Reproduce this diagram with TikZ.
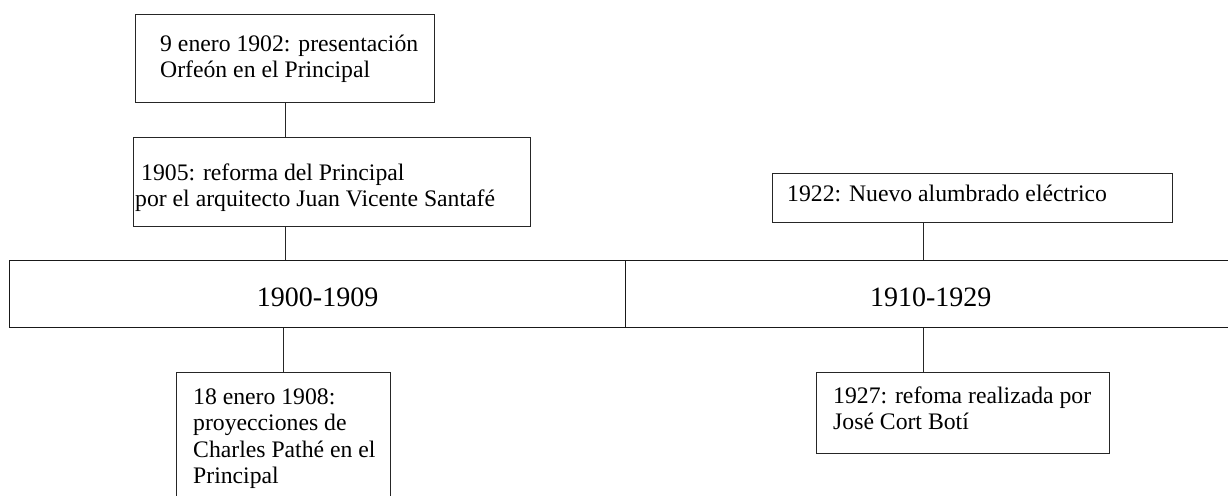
\documentclass[tikz,border=0pt]{standalone}
\usepackage{fontspec}
\setmainfont{Liberation Serif}
\usetikzlibrary{calc}
\begin{document}
\begin{tikzpicture}[x=1pt,y=-1pt,
  box/.style={draw=black!85, line width=1pt, inner sep=0pt, anchor=north west},
  txt/.style={inner sep=0pt, anchor=north west, align=left, font=\fontsize{23.7}{26.5}\selectfont},
  barbox/.style={draw=black!90, line width=1.3pt, inner sep=0pt, anchor=north west, minimum height=67pt, font=\fontsize{28}{32}\selectfont, text height=25pt, text depth=0pt},
  link/.style={draw=black!85, line width=1pt}]
\useasboundingbox (0,0) rectangle (1228,495);
% boxes
\node[box, minimum width=299pt, minimum height=88pt] (b1902) at (135,14) {};
\node[box, minimum width=397pt, minimum height=89pt] (b1905) at (133,137) {};
\node[barbox, minimum width=616pt] (bar1) at (9,260) {1900-1909};
\node[barbox, minimum width=610pt] (bar2) at (625,260) {1910-1929};
\node[box, minimum width=214pt, minimum height=130pt] (b1908) at (176,372) {};
\node[box, minimum width=400pt, minimum height=49pt] (b1922) at (772,173) {};
\node[box, minimum width=293pt, minimum height=81pt] (b1927) at (816,372) {};
% texts
\node[txt] (t1902) at (160,32.5) {\strut 9 enero 1902: presentación\\Orfeón en el Principal};
\node[txt] (t1905) at (135,161.5) {\strut\hspace*{6pt}1905: reforma del Principal\\por el arquitecto Juan Vicente Santafé};
\node[txt] (t1908) at (193,385.5) {\strut 18 enero 1908:\\proyecciones de\\Charles Pathé en el\\Principal};
\node[txt] (t1922) at (787,183) {\strut 1922: Nuevo alumbrado eléctrico};
\node[txt] (t1927) at (833,384.5) {\strut 1927: refoma realizada por\\José Cort Botí};
% connectors
\coordinate (cr) at (923,260);
\draw[link] (b1902.south) -- (b1902.south |- b1905.north);
\draw[link] (b1905.south -| b1902.south) -- (b1902.south |- bar1.north);
\draw[link] (b1908.north) -- (b1908.north |- bar1.south);
\draw[link] (cr |- b1922.south) -- (cr);
\draw[link] (cr |- bar2.south) -- (cr |- b1927.north);
\end{tikzpicture}
\end{document}
